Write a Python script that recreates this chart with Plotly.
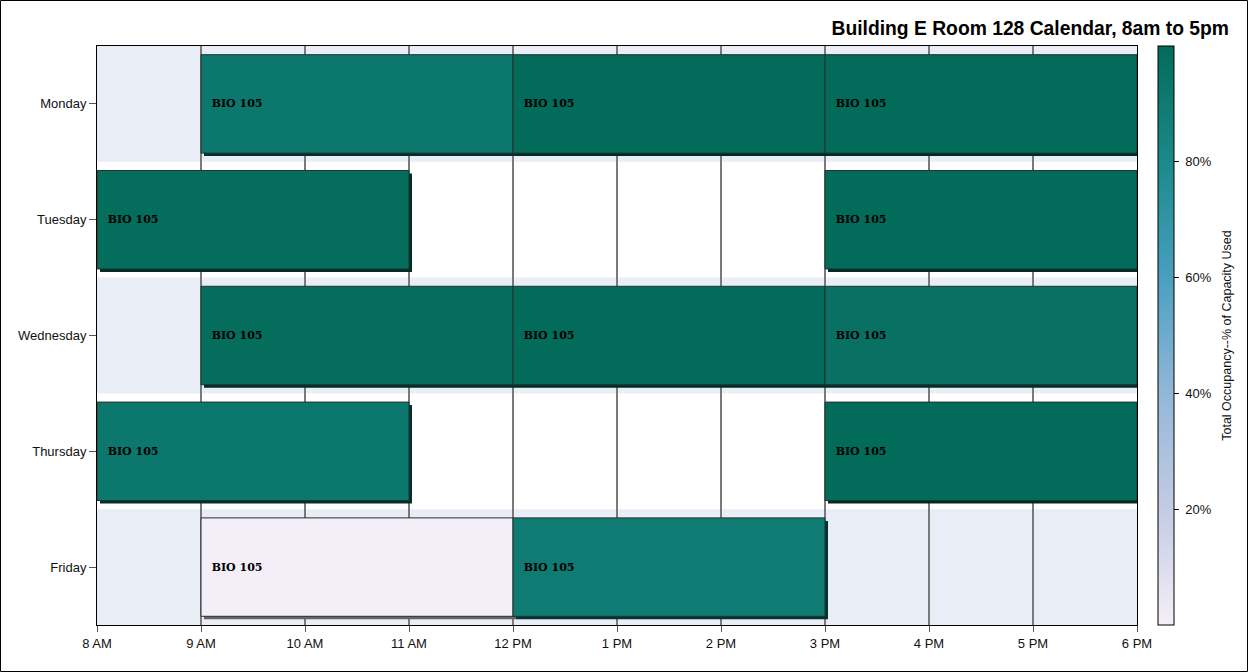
import plotly.graph_objects as go

# ---------------- data ----------------
days = ["Monday", "Tuesday", "Wednesday", "Thursday", "Friday"]
class_day = ["Monday", "Monday", "Monday", "Tuesday", "Tuesday",
             "Wednesday", "Wednesday", "Wednesday", "Thursday", "Thursday",
             "Friday", "Friday"]
start_hour = [9, 12, 15, 8, 15, 9, 12, 15, 8, 15, 9, 12]
end_hour = [12, 15, 18, 11, 18, 12, 15, 18, 11, 18, 12, 15]
occupancy = [92, 100, 100, 99, 100, 99, 100, 96, 92, 100, 0.5, 90]
course = ["BIO 105"] * 12
hour_ticks = list(range(8, 19))
hour_labels = ["8 AM", "9 AM", "10 AM", "11 AM", "12 PM", "1 PM", "2 PM",
               "3 PM", "4 PM", "5 PM", "6 PM"]
cbar_ticks = [20, 40, 60, 80]
cbar_labels = ["20%", "40%", "60%", "80%"]

# ---------------- styling ----------------
colorscale = [
    [0.0, "#F4EFF7"],
    [0.2, "#C4CBE4"],
    [0.4, "#93B7D8"],
    [0.6, "#4A9FC0"],
    [0.8, "#1A8A8A"],
    [1.0, "#036B5A"],
]


def darken(hexc, f):
    h = hexc.lstrip("#")
    r, g, b = (int(h[i:i + 2], 16) for i in (0, 2, 4))
    return "#%02X%02X%02X" % (int(r * f), int(g * f), int(b * f))


shadow_scale = [[s, darken(c, 0.42)] for s, c in colorscale]

L, R, T, B = 97, 111, 46, 47
W, H = 1248, 672
pw, ph = W - L - R, H - T - B
px_per_hour = pw / 10.0
px_per_cat = ph / 5.0
bar_w = 0.85
sh_dx = 3 / px_per_hour
sh_dy = 3 / px_per_cat

durations = [e - s for s, e in zip(start_hour, end_hour)]

fig = go.Figure()

# shadow
fig.add_trace(go.Bar(
    orientation="h",
    y=class_day,
    x=durations,
    base=[s + sh_dx for s in start_hour],
    width=bar_w,
    offset=-bar_w / 2 + sh_dy,
    marker=dict(color=occupancy, colorscale=shadow_scale, cmin=0, cmax=100,
                line=dict(width=0)),
    hoverinfo="skip",
    showlegend=False,
))

# main bars
fig.add_trace(go.Bar(
    orientation="h",
    y=class_day,
    x=durations,
    base=start_hour,
    width=bar_w,
    offset=-bar_w / 2,
    text=["\u00a0\u00a0" + c for c in course],
    textposition="inside",
    insidetextanchor="start",
    textangle=0,
    constraintext="none",
    insidetextfont=dict(family="DejaVu Serif", size=11, color="black",
                        weight="bold"),
    marker=dict(color=occupancy, colorscale=colorscale, cmin=0, cmax=100,
                line=dict(color="#22332F", width=1),
                showscale=True,
                colorbar=dict(
                    x=(1158 - L) / pw, xanchor="left", xpad=0, ypad=0,
                    y=0.5, yanchor="middle", len=1, lenmode="fraction",
                    thickness=16, outlinecolor="black", outlinewidth=1,
                    tickmode="array", tickvals=cbar_ticks,
                    ticktext=["\u00a0" + t + "\u00a0\u00a0" for t in cbar_labels],
                    ticks="outside", ticklen=5, tickcolor="black",
                    tickfont=dict(family="Liberation Sans", size=13, color="#111"),
                    title=dict(text="Total Occupancy--% of Capacity Used",
                               side="right",
                               font=dict(family="Liberation Sans", size=12.5,
                                         color="#111")),
                )),
    hoverinfo="skip",
    showlegend=False,
))

# alternating background bands
shapes = []
for i, d in enumerate(days):
    if i % 2 == 0:
        shapes.append(dict(type="rect", xref="x domain", yref="y",
                           x0=0, x1=1, y0=i - 0.5, y1=i + 0.5,
                           fillcolor="#E9EDF6", line=dict(width=0),
                           layer="below"))
# outer frame
shapes.append(dict(type="rect", xref="paper", yref="paper",
                   x0=(0.5 - L) / pw, x1=(W - 0.5 - L) / pw,
                   y0=-(B - 0.5) / ph, y1=1 + (T - 0.5) / ph,
                   line=dict(color="black", width=1), fillcolor="rgba(0,0,0,0)",
                   layer="above"))

fig.update_layout(
    width=W, height=H,
    margin=dict(l=L, r=R, t=T, b=B),
    paper_bgcolor="white",
    plot_bgcolor="white",
    barmode="overlay",
    shapes=shapes,
    title=dict(text="<b>Building E Room 128 Calendar, 8am to 5pm</b>",
               x=1229 / W, xanchor="right", xref="container",
               y=1 - 28 / H, yanchor="middle", yref="container",
               font=dict(family="Liberation Sans", size=19.3, color="black")),
    xaxis=dict(range=[8, 18], tickmode="array", tickvals=hour_ticks,
               ticktext=hour_labels, showgrid=True, gridcolor="#7A7A7A",
               gridwidth=1.5, zeroline=False, showline=True,
               linecolor="black", linewidth=1, mirror=True,
               ticks="outside", ticklen=6, tickcolor="#555",
               tickfont=dict(family="Liberation Sans", size=13, color="#111")),
    yaxis=dict(type="category", categoryorder="array", categoryarray=days,
               range=[4.5, -0.5], showgrid=False, zeroline=False,
               showline=True, linecolor="black", linewidth=1, mirror=True,
               ticks="outside", ticklen=7, tickcolor="#555",
               tickfont=dict(family="Liberation Sans", size=13, color="#111")),
)

fig.write_html("out.html")
